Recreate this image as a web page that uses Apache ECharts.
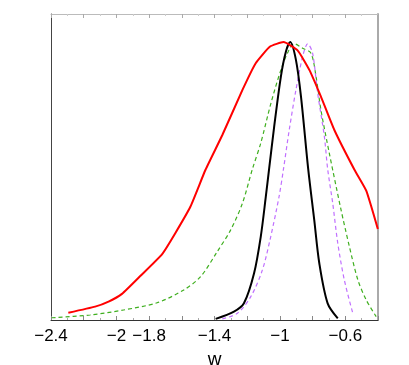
<!DOCTYPE html>
<html>
<head>
<meta charset="utf-8">
<script src="https://cdn.jsdelivr.net/npm/echarts@6/dist/echarts.min.js"></script>
<style>html,body{margin:0;padding:0;background:#fff}#c{width:409px;height:365px}</style>
</head>
<body>
<div id="c"></div>
<script>
const tickLabels = [-2.4, -2, -1.8, -1.4, -1, -0.6];

const wRed = [-2.294,-2.130,-2.048,-1.966,-1.854,-1.720,-1.639,-1.547,-1.455,-1.352,-1.229,-1.148,-1.060,-0.978,-0.892,-0.820,-0.749,-0.667,-0.544,-0.472,-0.401];
const pRed = [0.026,0.048,0.066,0.094,0.158,0.237,0.313,0.408,0.540,0.665,0.827,0.923,0.983,0.999,0.969,0.899,0.803,0.683,0.540,0.465,0.327];

const wGreen = [-2.396,-2.161,-1.956,-1.751,-1.588,-1.485,-1.383,-1.301,-1.229,-1.168,-1.117,-1.055,-0.994,-0.949,-0.913,-0.861,-0.810,-0.779,-0.749,-0.698,-0.626,-0.575,-0.523,-0.472,-0.411];
const pGreen = [0.008,0.018,0.036,0.062,0.108,0.156,0.246,0.324,0.420,0.543,0.636,0.779,0.899,0.965,0.993,0.977,0.959,0.875,0.755,0.600,0.396,0.264,0.144,0.072,0.012];

const wBlack = [-1.393,-1.281,-1.220,-1.158,-1.117,-1.086,-1.066,-1.035,-0.994,-0.963,-0.937,-0.902,-0.871,-0.827,-0.790,-0.759,-0.708,-0.646];
const pBlack = [0.004,0.030,0.060,0.168,0.300,0.444,0.543,0.695,0.875,0.965,0.999,0.935,0.803,0.543,0.360,0.204,0.060,0.006];

const wPurple = [-1.352,-1.260,-1.178,-1.107,-1.056,-1.005,-0.978,-0.943,-0.902,-0.861,-0.830,-0.800,-0.769,-0.728,-0.708,-0.677,-0.646,-0.606,-0.554];
const pPurple = [0.004,0.024,0.084,0.180,0.300,0.444,0.543,0.683,0.827,0.947,0.993,0.959,0.815,0.659,0.543,0.420,0.276,0.144,0.024];

const pairs = (w, p) => w.map((v, i) => [v, p[i]]);

const chart = echarts.init(document.getElementById('c'), null, {renderer: 'canvas'});
const fmt = v => {
  const r = Math.round(v * 10) / 10;
  if (!tickLabels.some(t => Math.abs(t - r) < 1e-6)) return '';
  return String(r).replace('-', '\u2212');
};
chart.setOption({
  animation: false,
  grid: {left: 51, right: 31, top: 14, bottom: 45, containLabel: false, outerBoundsMode: 'none'},
  xAxis: [{
    type: 'value', min: -2.4, max: -0.4, interval: 0.2,
    name: 'w', nameLocation: 'middle', nameGap: 30,
    nameTextStyle: {fontFamily: 'Liberation Sans', fontSize: 19, color: '#000'},
    axisLine: {show: true, onZero: false, lineStyle: {color: '#333', width: 1}},
    axisTick: {show: true, inside: true, length: 4, lineStyle: {color: '#888'}},
    minorTick: {show: true, splitNumber: 2, length: 2, lineStyle: {color: '#aaa'}},
    splitLine: {show: false},
    axisLabel: {formatter: fmt, fontFamily: 'Liberation Sans', fontSize: 17, color: '#000', margin: 8, showMinLabel: true, showMaxLabel: true}
  }, {
    type: 'value', position: 'top', min: -2.4, max: -0.4, interval: 0.2,
    axisLine: {show: true, onZero: false, lineStyle: {color: '#bbb', width: 1}},
    axisTick: {show: true, inside: true, length: 4, lineStyle: {color: '#aaa'}},
    minorTick: {show: true, splitNumber: 2, length: 2, lineStyle: {color: '#ccc'}},
    axisLabel: {show: false}, splitLine: {show: false}
  }],
  yAxis: [{
    type: 'value', min: 0, max: 1.1,
    axisLine: {show: true, onZero: false, lineStyle: {color: '#444', width: 1}},
    axisTick: {show: false}, axisLabel: {show: false}, splitLine: {show: false}
  }, {
    type: 'value', position: 'right', min: 0, max: 1.1,
    axisLine: {show: true, onZero: false, lineStyle: {color: '#aaa', width: 2}},
    axisTick: {show: false}, axisLabel: {show: false}, splitLine: {show: false}
  }],
  series: [
    {type: 'line', data: pairs(wGreen, pGreen), showSymbol: false, smooth: 0.3,
     lineStyle: {color: '#3faf1f', width: 1.2, type: [4, 3]}},
    {type: 'line', data: pairs(wPurple, pPurple), showSymbol: false, smooth: 0.3,
     lineStyle: {color: '#c070ff', width: 1.2, type: [4, 3]}},
    {type: 'line', data: pairs(wBlack, pBlack), showSymbol: false, smooth: 0.3,
     lineStyle: {color: '#000', width: 2}},
    {type: 'line', data: pairs(wRed, pRed), showSymbol: false, smooth: 0.15,
     lineStyle: {color: '#ff0000', width: 2}}
  ]
});
</script>
</body>
</html>
